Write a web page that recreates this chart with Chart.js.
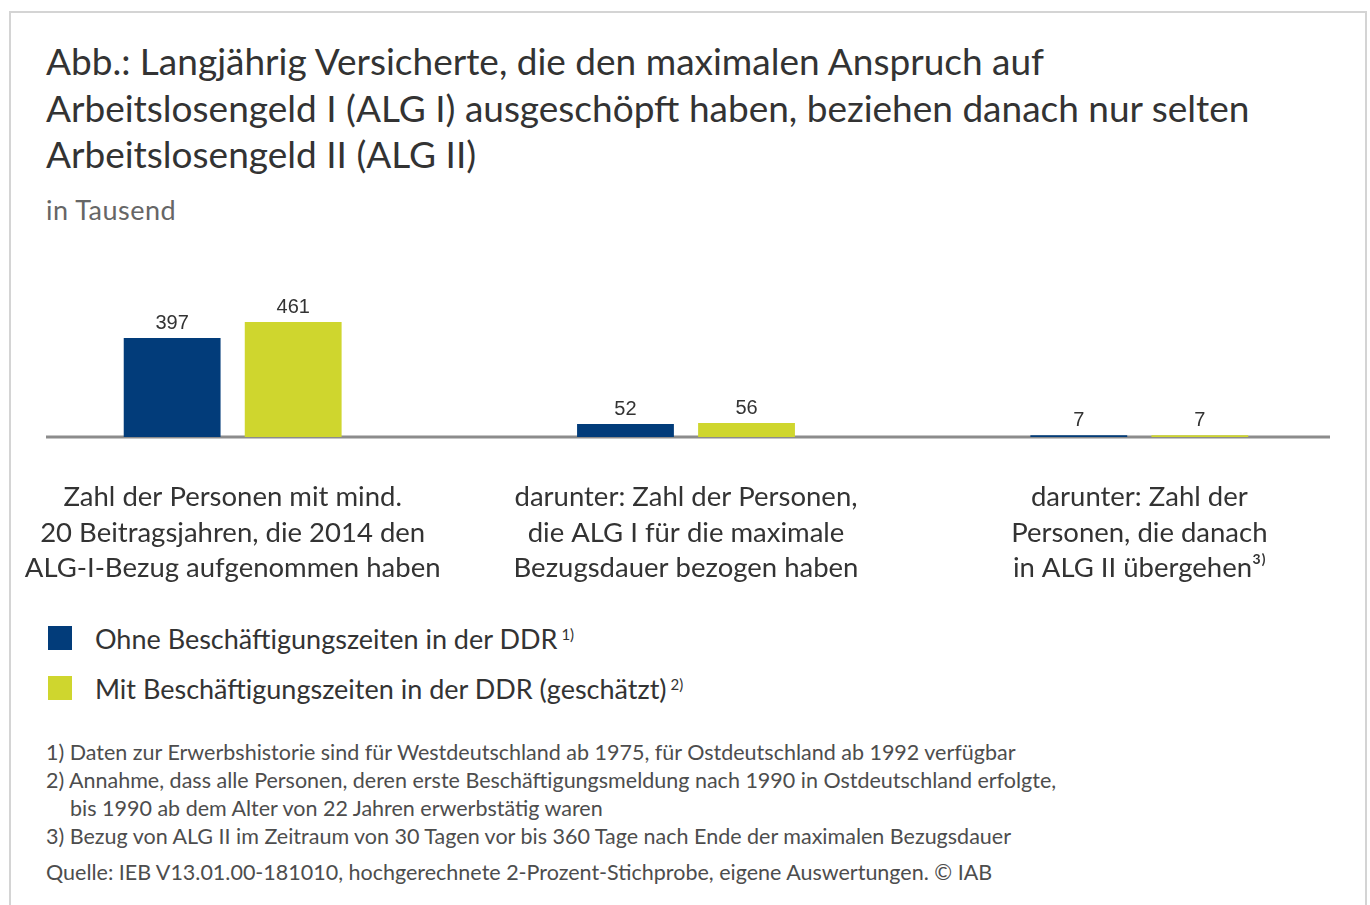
<!DOCTYPE html>
<html lang="de">
<head>
<meta charset="utf-8">
<title>Langjährig Versicherte</title>
<script src="https://cdn.jsdelivr.net/npm/chart.js@4.4.1/dist/chart.umd.min.js"></script>
<style>
  html, body { margin: 0; padding: 0; background: #fff; }
  body { width: 1370px; height: 905px; position: relative; overflow: hidden; font-family: Lato, "Noto Sans", sans-serif; color: #333; }
  #frame { position: absolute; left: 9px; top: 11px; width: 1354px; height: 1000px; border: 2px solid #d4d4d4; }
  #title { position: absolute; left: 46px; top: 38px; font-size: 37px; line-height: 46.5px; color: #333; margin: 0; font-weight: normal; }
  #unit { position: absolute; left: 46px; top: 193px; font-size: 27px; letter-spacing: 0.5px; color: #666; }
  #chartBox { position: absolute; left: 0; top: 240px; width: 1370px; height: 357px; }
  #legend { position: absolute; left: 48px; top: 613px; font-size: 27px; color: #333; }
  #legend div { height: 50px; display: flex; align-items: center; }
  #legend span.sw { display: inline-block; width: 24px; height: 24px; margin-right: 23px; }
  #legend sup { font-size: 15px; margin-left: 4px; position: relative; top: -4px; }
  #notes { position: absolute; left: 46px; top: 738px; font-size: 21.5px; line-height: 28px; color: #4d4d4d; }
  #notes .ind { padding-left: 24px; }
  #source { position: absolute; left: 46px; top: 859px; font-size: 21.5px; color: #4d4d4d; }
</style>
</head>
<body>
<div id="frame"></div>
<h1 id="title">Abb.: Langjährig Versicherte, die den maximalen Anspruch auf<br>Arbeitslosengeld I (ALG I) ausgeschöpft haben, beziehen danach nur selten<br>Arbeitslosengeld II (ALG II)</h1>
<div id="unit">in Tausend</div>
<div id="chartBox"><canvas id="chart"></canvas></div>
<div id="legend"></div>
<div id="notes">
  <div>1) Daten zur Erwerbshistorie sind für Westdeutschland ab 1975, für Ostdeutschland ab 1992 verfügbar</div>
  <div>2) Annahme, dass alle Personen, deren erste Beschäftigungsmeldung nach 1990 in Ostdeutschland erfolgte,</div>
  <div class="ind">bis 1990 ab dem Alter von 22 Jahren erwerbstätig waren</div>
  <div>3) Bezug von ALG II im Zeitraum von 30 Tagen vor bis 360 Tage nach Ende der maximalen Bezugsdauer</div>
</div>
<div id="source">Quelle: IEB V13.01.00-181010, hochgerechnete 2-Prozent-Stichprobe, eigene Auswertungen. © IAB</div>

<script>
// Data (in Tausend)
const categories = [
  ["Zahl der Personen mit mind.", "20 Beitragsjahren, die 2014 den", "ALG-I-Bezug aufgenommen haben"],
  ["darunter: Zahl der Personen,", "die ALG I für die maximale", "Bezugsdauer bezogen haben"],
  ["darunter: Zahl der", "Personen, die danach", "in ALG II übergehen³⁾"]
];
const ohneDDR = [397, 52, 7];
const mitDDR = [461, 56, 7];
const seriesNames = ["Ohne Beschäftigungszeiten in der DDR", "Mit Beschäftigungszeiten in der DDR (geschätzt)"];
const seriesNotes = ["1)", "2)"];
const seriesColors = ["#023c7a", "#cfd62e"];

// value labels above bars
const valueLabels = {
  id: "valueLabels",
  afterDatasetsDraw(chart) {
    const ctx = chart.ctx;
    ctx.save();
    ctx.font = "20px 'Liberation Sans', Arial, sans-serif";
    ctx.fillStyle = "#333";
    ctx.textAlign = "center";
    ctx.textBaseline = "bottom";
    chart.data.datasets.forEach((ds, i) => {
      chart.getDatasetMeta(i).data.forEach((bar, j) => {
        ctx.fillText(ds.data[j], bar.x, bar.y - 5);
      });
    });
    ctx.restore();
  }
};

// grey base line, shorter than the plot area
const baseLine = {
  id: "baseLine",
  beforeDatasetsDraw(chart) {
    const ctx = chart.ctx;
    const y = chart.scales.y.getPixelForValue(0);
    ctx.save();
    ctx.strokeStyle = "#8c8c8c";
    ctx.lineWidth = 3;
    ctx.beginPath();
    ctx.moveTo(46, y);
    ctx.lineTo(1330, y);
    ctx.stroke();
    ctx.restore();
  }
};

new Chart(document.getElementById("chart"), {
  type: "bar",
  data: {
    labels: categories,
    datasets: [
      { label: seriesNames[0], data: ohneDDR, backgroundColor: seriesColors[0] },
      { label: seriesNames[1], data: mitDDR, backgroundColor: seriesColors[1] }
    ]
  },
  options: {
    responsive: true,
    maintainAspectRatio: false,
    animation: false,
    layout: { padding: { left: 6, right: 4, top: 10, bottom: 0 } },
    datasets: { bar: { categoryPercentage: 0.534, barPercentage: 0.8 } },
    plugins: { legend: { display: false }, tooltip: { enabled: false } },
    scales: {
      x: {
        grid: { display: false },
        border: { display: false },
        afterFit: (s) => {
          s.height = 160;
          s.paddingLeft = 0;
          s.paddingRight = 0;
        },
        ticks: {
          color: "#333",
          padding: 35,
          maxRotation: 0,
          autoSkip: false,
          font: { family: "Lato", size: 27.5, lineHeight: 1.28 }
        }
      },
      y: { display: false, min: 0, max: 750 }
    }
  },
  plugins: [baseLine, valueLabels]
});

// legend
const legend = document.getElementById("legend");
seriesNames.forEach((name, i) => {
  const row = document.createElement("div");
  row.innerHTML = `<span class="sw" style="background:${seriesColors[i]}"></span>${name}<sup>${seriesNotes[i]}</sup>`;
  legend.appendChild(row);
});
</script>
</body>
</html>
